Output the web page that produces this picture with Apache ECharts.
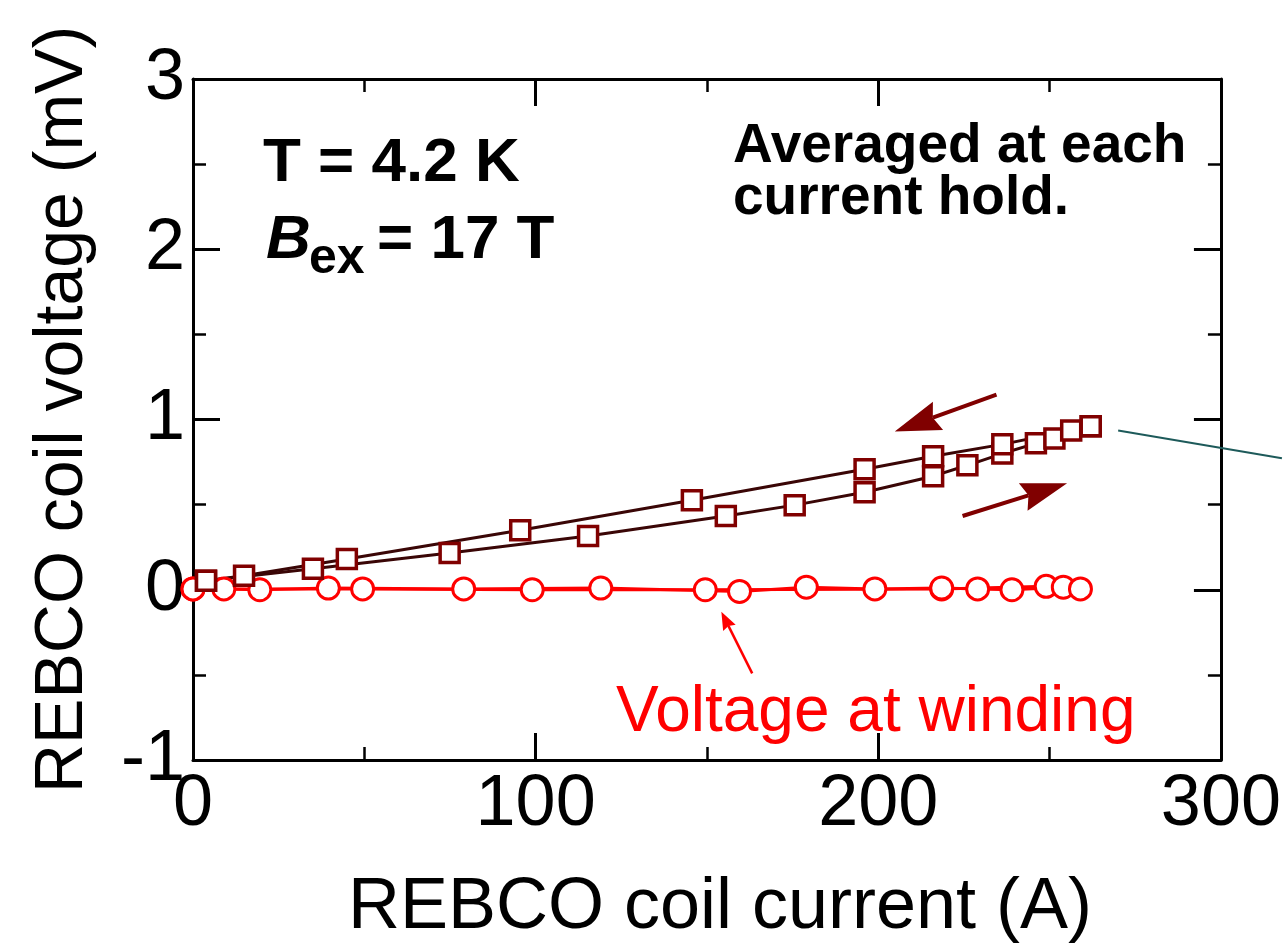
<!DOCTYPE html>
<html>
<head>
<meta charset="utf-8">
<script src="https://cdn.jsdelivr.net/npm/echarts@6/dist/echarts.min.js"></script>
<style>
  html, body { margin: 0; padding: 0; background: #ffffff; }
  #chart { width: 1284px; height: 949px; }
</style>
</head>
<body>
<div id="chart"></div>
<script>
// Coil current (A) vs. coil voltage (mV), averaged at each current hold
const coilUpCurrent   = [3.8, 35, 74.9, 115.3, 155.5, 175.6, 196, 216, 226, 236.2, 246, 251.4, 256.3, 262];
const coilUpVoltage   = [0.053, 0.123, 0.216, 0.316, 0.433, 0.497, 0.573, 0.667, 0.731, 0.80, 0.86, 0.889, 0.935, 0.96];
const coilDownCurrent = [262, 236.2, 216, 196, 145.6, 95.5, 44.9, 14.9, 3.8];
const coilDownVoltage = [0.96, 0.854, 0.784, 0.708, 0.526, 0.35, 0.181, 0.082, 0.053];

// Voltage measured across the winding only
const windingUpCurrent   = [0, 9, 19.5, 39.5, 79, 119, 159.5, 179, 199, 218.5, 229, 239, 254, 259];
const windingUpVoltage   = [0.005, 0.005, 0, 0.01, 0.005, 0.01, -0.01, 0.015, 0.005, 0.01, 0.005, 0, 0.015, 0.005];
const windingDownCurrent = [249, 218.5, 149.5, 99, 49.5, 0];
const windingDownVoltage = [0.02, 0.005, 0, 0, 0.005, 0.005];

// Axis ranges and tick steps
const xTickValues = [0, 100, 200, 300];
const yTickValues = [-1, 0, 1, 2, 3];

const pairs = (xs, ys) => xs.map((x, i) => [x, ys[i]]);

const FONT = "'Liberation Sans', Arial, Helvetica, sans-serif";
const COIL_LINE = '#3a0606';
const COIL_MARK = '#800000';
const WIND = '#ff0000';

const xMin = xTickValues[0], xMax = xTickValues[xTickValues.length - 1];
const yMin = yTickValues[0], yMax = yTickValues[yTickValues.length - 1];
const xStep = xTickValues[1] - xTickValues[0];
const yStep = yTickValues[1] - yTickValues[0];

const baseAxis = {
  axisLine: { show: true, onZero: false, lineStyle: { color: '#000', width: 3 } },
  axisTick: { show: true, inside: true, length: 27, lineStyle: { color: '#000', width: 3 } },
  minorTick: { show: true, splitNumber: 2, length: 13, lineStyle: { color: '#000', width: 2.5 } },
  splitLine: { show: false },
  minorSplitLine: { show: false }
};

const chart = echarts.init(document.getElementById('chart'), null, { renderer: 'canvas' });

const option = {
  animation: false,
  backgroundColor: '#ffffff',
  grid: { left: 193, right: 61, top: 79, bottom: 187, containLabel: false },
  xAxis: [
    Object.assign({}, baseAxis, {
      type: 'value', position: 'bottom', min: xMin, max: xMax, interval: xStep,
      name: 'REBCO coil current (A)', nameLocation: 'middle', nameGap: 112,
      nameTextStyle: { fontFamily: FONT, fontSize: 72, color: '#000', padding: [0, 0, 0, 26] },
      axisLabel: { show: true, margin: 9, fontFamily: FONT, fontSize: 72, color: '#000' }
    }),
    Object.assign({}, baseAxis, {
      type: 'value', position: 'top', min: xMin, max: xMax, interval: xStep,
      axisLabel: { show: false }
    })
  ],
  yAxis: [
    Object.assign({}, baseAxis, {
      type: 'value', position: 'left', min: yMin, max: yMax, interval: yStep,
      name: 'REBCO coil voltage (mV)', nameLocation: 'middle', nameGap: 96, nameRotate: 90,
      nameTextStyle: { fontFamily: FONT, fontSize: 68, color: '#000', padding: [0, 0, 0, 20] },
      axisLabel: { show: true, margin: 8, fontFamily: FONT, fontSize: 72, color: '#000' }
    }),
    Object.assign({}, baseAxis, {
      type: 'value', position: 'right', min: yMin, max: yMax, interval: yStep,
      axisLabel: { show: false }
    })
  ],
  series: [
    {
      name: 'winding down', type: 'line', data: pairs(windingDownCurrent, windingDownVoltage),
      symbol: 'circle', symbolSize: 22, clip: false,
      lineStyle: { color: WIND, width: 3 },
      itemStyle: { color: '#ffffff', borderColor: WIND, borderWidth: 3 }
    },
    {
      name: 'winding up', type: 'line', data: pairs(windingUpCurrent, windingUpVoltage),
      symbol: 'circle', symbolSize: 22, clip: false,
      lineStyle: { color: WIND, width: 3 },
      itemStyle: { color: '#ffffff', borderColor: WIND, borderWidth: 3 }
    },
    {
      name: 'coil up', type: 'line', data: pairs(coilUpCurrent, coilUpVoltage),
      symbol: 'rect', symbolSize: 19,
      lineStyle: { color: COIL_LINE, width: 3 },
      itemStyle: { color: '#ffffff', borderColor: COIL_MARK, borderWidth: 3.5 }
    },
    {
      name: 'coil down', type: 'line', data: pairs(coilDownCurrent, coilDownVoltage),
      symbol: 'rect', symbolSize: 19,
      lineStyle: { color: COIL_LINE, width: 3 },
      itemStyle: { color: '#ffffff', borderColor: COIL_MARK, borderWidth: 3.5 }
    }
  ]
};

chart.setOption(option);

// Sweep-direction arrows and labels, placed in data coordinates
const arrows = [
  { from: [234.5, 1.146], to: [204.8, 0.93], color: COIL_MARK, lineWidth: 4, headLen: 46, headWidth: 30 },
  { from: [224.6, 0.433], to: [255.1, 0.626], color: COIL_MARK, lineWidth: 4, headLen: 46, headWidth: 29 },
  { from: [163.2, -0.491], to: [154.2, -0.129], color: WIND, lineWidth: 2.5, headLen: 18, headWidth: 14 }
];
const leader = { from: [270, 0.936], to: [317.8, 0.772], color: '#1d5a5a' };

const toPx = p => chart.convertToPixel({ xAxisIndex: 0, yAxisIndex: 0 }, p);

const graphics = [];
arrows.forEach(a => {
  const p0 = toPx(a.from), p1 = toPx(a.to);
  const dx = p1[0] - p0[0], dy = p1[1] - p0[1];
  const L = Math.hypot(dx, dy), ux = dx / L, uy = dy / L;
  const nx = -uy, ny = ux;
  const bx = p1[0] - ux * a.headLen, by = p1[1] - uy * a.headLen;
  const kx = p1[0] - ux * a.headLen * 0.88, ky = p1[1] - uy * a.headLen * 0.88;
  graphics.push({
    type: 'line', silent: true, z: 100,
    shape: { x1: p0[0], y1: p0[1], x2: kx, y2: ky },
    style: { stroke: a.color, lineWidth: a.lineWidth }
  });
  graphics.push({
    type: 'polygon', silent: true, z: 101,
    shape: { points: [
      [p1[0], p1[1]],
      [bx + nx * a.headWidth / 2, by + ny * a.headWidth / 2],
      [kx, ky],
      [bx - nx * a.headWidth / 2, by - ny * a.headWidth / 2]
    ] },
    style: { fill: a.color }
  });
});
{
  const p0 = toPx(leader.from), p1 = toPx(leader.to);
  graphics.push({
    type: 'line', silent: true, z: 100,
    shape: { x1: p0[0], y1: p0[1], x2: p1[0], y2: p1[1] },
    style: { stroke: leader.color, lineWidth: 2 }
  });
}

const txt = (x, y, text, size, opts) => Object.assign({
  type: 'text', silent: true, z: 110, x: x, y: y,
  style: Object.assign({
    text: text, fontFamily: FONT, fontSize: size, fontWeight: 'bold',
    fill: '#000', align: 'left', verticalAlign: 'middle'
  }, opts || {})
});

graphics.push(txt(263, 164, 'T = 4.2 K', 62));
graphics.push(txt(266, 241, 'B', 62, { fontStyle: 'italic' }));
graphics.push(txt(309, 259, 'ex', 50));
graphics.push(txt(377, 241, '= 17 T', 62));
graphics.push(txt(733, 147, 'Averaged at each', 55));
graphics.push(txt(733, 199, 'current hold.', 55));
graphics.push(txt(616, 713, 'Voltage at winding', 64, { fontWeight: 'normal', fill: WIND }));

chart.setOption({ graphic: graphics });
</script>
</body>
</html>
